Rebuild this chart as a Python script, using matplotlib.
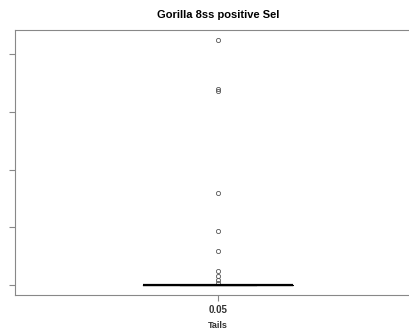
import matplotlib.pyplot as plt
import numpy as np

plt.rcParams['font.family'] = ['Liberation Sans', 'DejaVu Sans']

group = '0.05'
n_zero = 60  # number of zero-valued tails (all stacked on the median line)
outliers = [0.03, 0.09, 0.16, 0.24, 0.59, 0.94, 1.59, 3.36, 3.40, 4.25]
tails = [0.0] * n_zero + outliers
yticks = [0, 1, 2, 3, 4]

fig = plt.figure(figsize=(4.1, 3.29), dpi=100)
ax = fig.add_axes([15/410, 1-295/329, 406/410, 265/329])

ax.boxplot([tails], positions=[1], widths=0.37, whis=1.5,
           medianprops=dict(color='black', linewidth=1.6),
           boxprops=dict(color='black', linewidth=0.8),
           whiskerprops=dict(color='black', linewidth=0.8),
           capprops=dict(color='black', linewidth=0.8),
           flierprops=dict(marker='o', markersize=3, markerfacecolor='none',
                           markeredgecolor='#555555', markeredgewidth=0.6))

ax.set_xlim(0.5, 1.5)
ax.set_ylim(-0.17, 4.42)
ax.set_yticks(yticks)
ax.set_yticklabels([])
ax.set_xticks([1])
ax.set_xticklabels([group], fontsize=7, fontweight='bold')
ax.set_xlabel('Tails', fontsize=6.5, fontweight='bold', labelpad=4.5)
ax.set_title('Gorilla 8ss positive Sel', fontsize=8, fontweight='bold', pad=9)

for s in ['left', 'bottom', 'top']:
    ax.spines[s].set_color('#888888')
ax.spines['right'].set_visible(False)
ax.tick_params(colors='#888888', length=4, width=0.8)
ax.tick_params(axis='x', labelcolor='#333333', pad=3)
ax.xaxis.label.set_color('#333333')

fig.savefig('out.png', dpi=100)
